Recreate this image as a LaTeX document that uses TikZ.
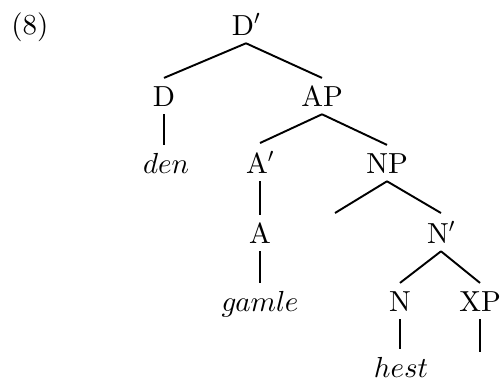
\documentclass[tikz,border=0pt]{standalone}
\DeclareMathSizes{24.88}{24.88}{17.28}{12}
\font\Trm=cmr10 at 24.88pt
\font\Tmi=cmmi10 at 24.88pt
\begin{document}
\begin{tikzpicture}[x=0.858pt,y=-0.858pt,
  tn/.style={inner sep=6.9pt, anchor=base, font=\Huge\Trm},
  br/.style={line width=1.65pt}]
\useasboundingbox (0,0) rectangle (503,381);
\node[tn] (ex) at (30,34) {(8)};
\node[tn] (Dp) at (246,35) {D$'$};
\node[tn] (D) at (164,106) {D};
\node[tn] (AP) at (322,106) {AP};
\node[tn] (den) at (166,173) {\Tmi den};
\node[tn] (Ap) at (260,173) {A$'$};
\node[tn] (NP) at (387,173) {NP};
\node[tn] (A) at (260,243) {A};
\node[tn] (Np) at (441,243) {N$'$};
\node[tn] (gamle) at (260,311) {\Tmi gamle};
\node[tn] (N) at (400,311) {N};
\node[tn] (XP) at (480,311) {XP};
\node[tn] (hest) at (401,377) {\Tmi hest};
\coordinate (NPe) at (335,213);
\coordinate (XPe) at (480,352);
\draw[br] (Dp.south) -- (D.north);
\draw[br] (Dp.south) -- (AP.north);
\draw[br] (D.south) -- (D.south |- den.north);
\draw[br] (AP.south) -- (Ap.north);
\draw[br] (AP.south) -- (NP.north);
\draw[br] (Ap.south) -- (Ap.south |- A.north);
\draw[br] (A.south) -- (A.south |- gamle.north);
\draw[br] (NP.south) -- (NPe);
\draw[br] (NP.south) -- (Np.north);
\draw[br] (Np.south) -- (N.north);
\draw[br] (Np.south) -- (XP.north);
\draw[br] (N.south) -- (N.south |- hest.north);
\draw[br] (XP.south) -- (XPe);
\end{tikzpicture}
\end{document}
